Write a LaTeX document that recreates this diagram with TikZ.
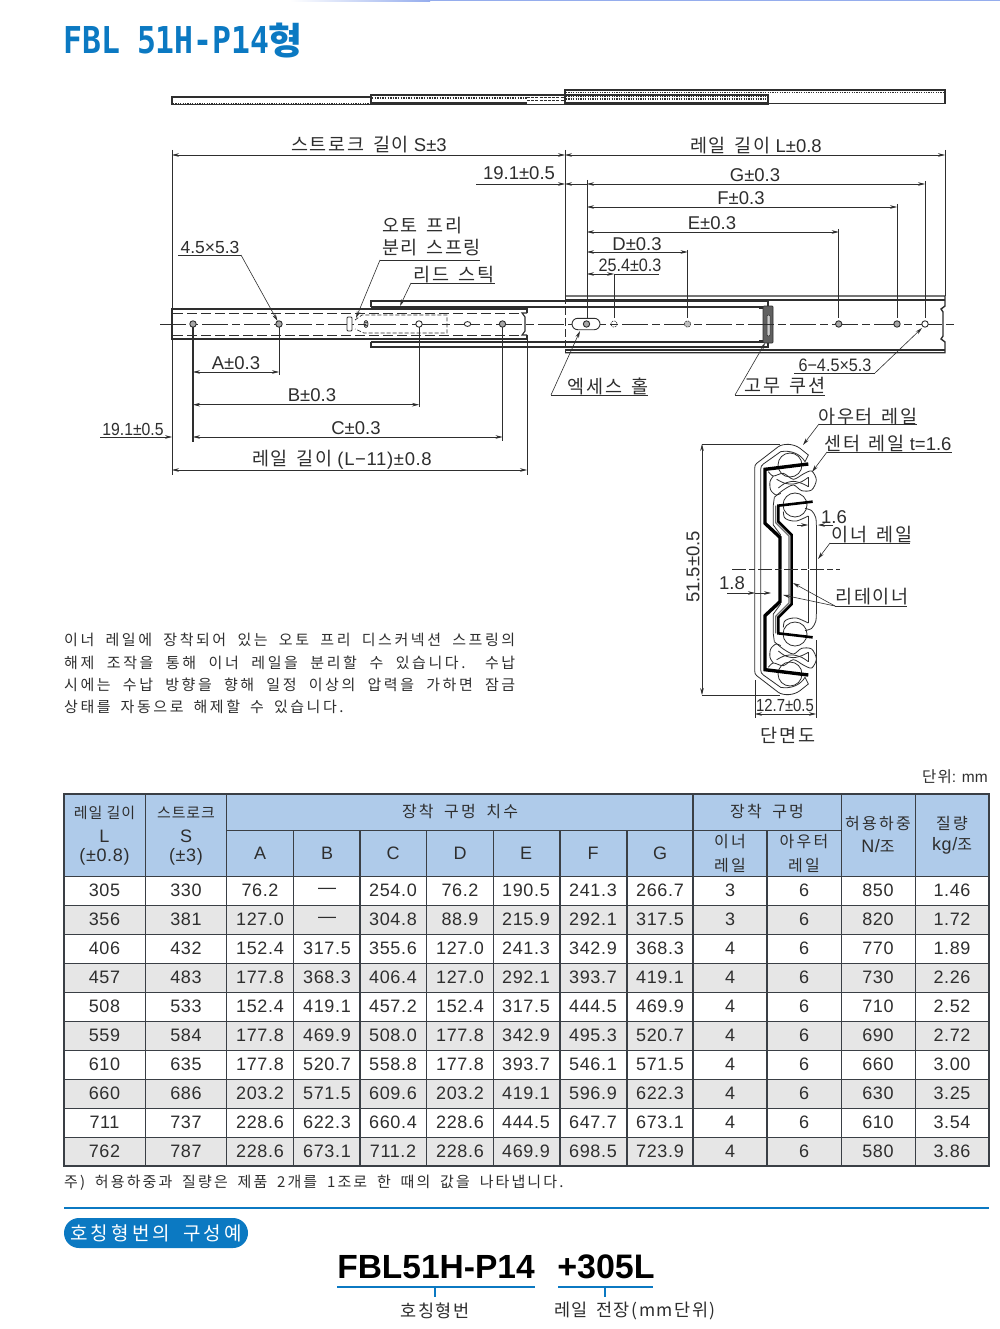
\documentclass[tikz,border=0pt]{standalone}
\usepackage{fontspec}
\usepackage{graphicx}
\setmainfont{Liberation Sans}
\newfontfamily\krfont[LetterSpace=9,WordSpace=1.5]{Noto Sans CJK KR}
\newfontfamily\krp[LetterSpace=17,WordSpace=1.7]{Noto Sans CJK KR}
\newfontfamily\krh[LetterSpace=14,WordSpace=1.8]{Noto Sans CJK KR}
\newfontfamily\krn[LetterSpace=6,WordSpace=1]{Noto Sans CJK KR}
\newfontfamily\numf[LetterSpace=3.5]{Liberation Sans}
\newfontfamily\titlefont{DejaVu Sans Mono}
\usetikzlibrary{arrows.meta,shadings}
\newcommand{\K}[1]{{\krfont #1}}
\newcommand{\fs}[1]{\fontsize{#1}{#1}\selectfont}
\newcommand{\KH}[1]{{\krh\fs{16}#1}}
\newcommand{\KN}[1]{{\krn\fs{15}#1}}
\definecolor{ink}{HTML}{2E2E2E}
\definecolor{blueb}{HTML}{0B79C2}
\definecolor{headb}{HTML}{AFCBEA}
\definecolor{rowg}{HTML}{E6E6E6}
\definecolor{tline}{HTML}{3A3F45}
\tikzset{
  tx/.style={inner sep=0pt,outer sep=0pt,text=ink,font=\fs{18.5}},
  txs/.style={inner sep=0pt,outer sep=0pt,text=ink,font=\fs{16}},
  cellt/.style={inner sep=0pt,outer sep=0pt,text=ink,font=\numf\fs{18}},
  headt/.style={inner sep=0pt,outer sep=0pt,text=ink,font=\numf\fs{18},align=center},
  para/.style={anchor=west,inner sep=0pt,text=ink,font=\krp\fs{15}},
  dl/.style={draw=ink,line width=.6pt},
  ext/.style={draw=ink,line width=.7pt},
  dim/.style={dl,{Stealth[length=7pt,width=3.6pt]}-{Stealth[length=7pt,width=3.6pt]}},
  dimr/.style={dl,-{Stealth[length=7pt,width=3.6pt]}},
  lead/.style={draw=ink,line width=.6pt,-{Stealth[length=7pt,width=3.6pt]}},
  rail/.style={draw=ink,line width=1.1pt},
  railb/.style={draw=ink,line width=1.4pt},
  hid/.style={draw=ink,line width=.7pt,dash pattern=on 10pt off 4pt},
  center/.style={draw=ink,line width=.6pt,dash pattern=on 26pt off 4pt on 8pt off 4pt},
  hole/.style={draw=ink,line width=.9pt,fill=gray!70},
  wholeh/.style={draw=ink,line width=.9pt,fill=white},
  sect/.style={draw=ink,line width=.8pt},
  grid/.style={draw=tline,line width=1.1pt},
}
\newcommand{\sectionhalf}{%
  \begin{scope}[shift={(740,440)},scale=0.3333]
    % outer rail
    \draw[sect] (44,388.5) -- (44,85) .. controls (44,78) and (46,73) .. (50,70) -- (115,20)
       .. controls (130,10) and (160,10) .. (180,25) -- (205,45) -- (195,65)
       .. controls (180,40) and (150,30) .. (122,35) -- (70,72)
       .. controls (65,76) and (62,80) .. (62,88) -- (62,388.5);
    % balls
    \draw[sect] (150,75) circle (36);
    \draw[sect] (165,195) circle (36);
    % centre rail wave
    \draw[sect] plot[smooth] coordinates {(85,95) (100,108) (130,100) (160,118) (190,102) (215,93) (229,120) (215,150) (185,152) (160,135) (130,150) (103,172)};
    \draw[sect] (103,172) -- (100,195) -- (100,255) -- (122,285);
    \draw[sect] plot[smooth] coordinates {(100,108) (90,125) (92,150) (108,165) (122,160)};
    \draw[sect] plot[smooth] coordinates {(110,118) (135,130) (160,132) (185,125) (205,112)};
    \draw[sect] plot[smooth] coordinates {(115,144) (135,130) (160,124) (185,130) (205,140)};
    \draw[sect] (205,112) -- (205,140);
    % inner rail
    \draw[sect] plot[smooth] coordinates {(130,215) (133,232) (145,240) (170,243) (205,228)};
    \draw[sect] (205,228) -- (205,388.5);
    \draw[sect] plot[smooth] coordinates {(195,205) (215,212) (227,232) (229,255)};
    \draw[sect] (229,255) -- (229,388.5);
    % retainers
    \draw[draw=ink!70,line width=1.2pt] (107,197) -- (107,248) -- (147,288) -- (147,388.5);
    \draw[draw=black,line width=3.4pt,line join=miter] (205,72) -- (75,88) -- (75,250) -- (120,292) -- (120,388.5);
    \draw[draw=black,line width=2.6pt,line join=miter] (218,185) -- (115,197) -- (115,245) -- (155,285) -- (155,388.5);
  \end{scope}}
\begin{document}
\begin{tikzpicture}[x=1pt,y=-1pt]
\useasboundingbox (0,0) rectangle (1000,1329);
\fill[white] (0,0) rectangle (1000,1329);
% top rule
\shade[left color=white,right color=headb!85!blue] (290,0) rectangle (430,1.3);
\fill[headb!85!blue] (430,0) rectangle (1000,1.3);
% title
\node[anchor=west,inner sep=0pt,text=blueb] (title) at (63,41) {\scalebox{.85}[1]{\titlefont\bfseries\fs{37}FBL}\hspace{17pt}\scalebox{.85}[1]{\titlefont\bfseries\fs{37}51H-P14}\raisebox{-1.5pt}{\krfont\bfseries\fs{37}\hspace{-1pt}형}};

% ---------- top view ----------
\draw[rail] (172,97) rectangle (371,104.5);
\draw[ink,line width=1pt,dash pattern=on 1.2pt off 1.2pt] (173,103.3) -- (371,103.3);
\draw[rail] (371,95) rectangle (768,104.5);
\draw[ink,line width=2.2pt,dash pattern=on 1.4pt off 1.2pt] (372,97.8) -- (527,97.8);
\draw[ink,line width=.5pt,dash pattern=on 3pt off 1.2pt] (527,97) -- (565,97);
\draw[ink,line width=.5pt,dash pattern=on 3pt off 1.2pt] (527,100) -- (565,100);
\draw[ink,line width=1.2pt] (372,103) -- (527,103);
\draw[rail] (565,90) rectangle (945,103.3);
\draw[ink,line width=1.3pt,dash pattern=on 1.2pt off 1.2pt] (566,92.5) -- (945,92.5);
\draw[ink,line width=1.7pt,dash pattern=on 1.2pt off 1.2pt] (566,96) -- (768,96);
\draw[ink,line width=1.7pt,dash pattern=on 1.2pt off 1.2pt] (566,99.3) -- (768,99.3);
\draw[ink,line width=1.6pt] (565,103) -- (768,103);
\draw[ink,line width=2pt] (768,94) -- (768,104.5);

% ---------- extension lines top ----------
\draw[ext] (172,150) -- (172,309);
\draw[ext] (565,150) -- (565,296);
\draw[ext] (945,150) -- (945,296);
\draw[ext] (587,180) -- (587,320);
\draw[ext] (925,181) -- (925,318);
\draw[ext] (897,204) -- (897,318);
\draw[ext] (838.7,229) -- (838.7,318);
\draw[ext] (687.5,250) -- (687.5,318);
\draw[ext] (614,274) -- (614,318);

% ---------- side view: outer rail ----------
\draw[railb] (565,296) -- (945,296) -- (945,306) -- (941,309) -- (943,312) -- (943,336) -- (941,339) -- (945,342) -- (945,352.7) -- (565,352.7);
\draw[rail] (565,300) -- (945,300);
\draw[rail] (565,350) -- (945,350);
\draw[ink,line width=.7pt,dash pattern=on 8pt off 3pt] (565,296) -- (565,352.7);
% centre rail
\draw[railb] (371,307) -- (371,301) -- (768,301) -- (768,307);
\draw[rail] (371,307) -- (763,307);
\draw[rail] (371,342) -- (763,342);
\draw[railb] (371,342) -- (371,347) -- (768,347) -- (768,342);
\draw[ink,line width=1pt] (383,308.5) -- (393,308.5);
\draw[ink,line width=1pt] (383,341) -- (393,341);
\draw[ink,line width=1pt] (393,306) -- (400,306);
% rubber cushion
\draw[ink,line width=.7pt] (759,308.5) -- (764,308.5);
\draw[ink,line width=.7pt] (759,340) -- (764,340);
\draw[draw=ink,fill=gray!75!black,line width=.7pt,rounded corners=1pt] (763,306) rectangle (773,343);
\draw[draw=ink,fill=gray!40,line width=.5pt,rounded corners=1pt] (767,315) rectangle (770,336);
% inner rail
\fill[white] (172,309) rectangle (527,339);
\draw[railb] (527,313) -- (527,309) -- (172,309) -- (172,339) -- (527,339) -- (527,335);
\draw[rail] (527,313) -- (522,313) -- (525,317) -- (525,331) -- (522,335) -- (527,335);
\draw[hid] (173,313) -- (522,313);
\draw[hid] (173,335) -- (522,335);
% hidden box
\draw[draw=ink,line width=.7pt,dash pattern=on 4pt off 2pt] (355,320) -- (362,315) -- (447,315) -- (447,333) -- (364,333) -- (355,329);
% centre line
\draw[center] (160,324) -- (956,324);
% holes
\draw[hole] (193,324) circle (3.2);
\draw[hole] (279,324) circle (3.2);
\draw[wholeh] (419,324) circle (3.2);
\draw[wholeh] (467.5,324) ellipse (3.2 and 2.4);
\draw[hole] (502.5,324) circle (3.2);
\draw[draw=ink,line width=.8pt] (366,324) ellipse (2 and 3.5);
\draw[draw=ink,line width=.5pt] (366,324) ellipse (1 and 2);
\draw[draw=ink,fill=white,line width=.9pt,rounded corners=1pt] (347,317) rectangle (352,331);
\draw[draw=ink,fill=white,line width=.9pt,rounded corners=5.7pt] (572,318.3) rectangle (600,329.7);
\draw[hole] (586.5,324) circle (3.2);
\draw[draw=ink,line width=.6pt,dash pattern=on 1.5pt off 1pt] (614,324) circle (3.2);
\draw[draw=ink,line width=.6pt,dash pattern=on 1.5pt off 1pt,fill=gray!50] (687.5,324) circle (3.2);
\draw[hole] (838.7,324) circle (3.2);
\draw[hole] (897,324) circle (3.2);
\draw[wholeh] (925,324) circle (3.2);

% ---------- lower extension ----------
\draw[ext] (172,339) -- (172,475);
\draw[ext] (527,339) -- (527,475);
\draw[draw=ink,line width=1.2pt] (193,327) -- (193,442);
\draw[ext] (279,327) -- (279,375);
\draw[ext] (419,327) -- (419,407);
\draw[ext] (502.5,327) -- (502.5,441);

% ---------- dimensions ----------
\coordinate (sL) at (172,155); \coordinate (sR) at (565,155); \coordinate (lR) at (945,155);
\draw[dim] (sL) -- (sR); \draw[dim] (sR) -- (lR);
\coordinate (h19a) at (476,184); \coordinate (h19b) at (565,184); \coordinate (h19c) at (587,184);
\draw[dimr] (h19a) -- (h19b);
\draw[dl,{Stealth[length=7pt,width=3.6pt]}-] (h19b) -- (h19c);
\coordinate (hG) at (587,184);
\draw[dim] (hG) -- (925,184);
\draw[dim] (587,207) -- (897,207);
\draw[dim] (587,232) -- (838.7,232);
\draw[dim] (587,252) -- (687.5,252);
\draw[dim] (587,274) -- (614,274);
\draw[dl] (614,274) -- (659,274);
\draw[dim] (193,372) -- (279,372);
\draw[dim] (193,404.7) -- (419,404.7);
\draw[dim] (193,437) -- (502.5,437);
\draw[dim] (172,470) -- (527,470);
\draw[dimr] (100,437) -- (172,437);

\node[tx] (t1) at (369,145) {\K{스트로크 길이} S±3};
\node[tx] (t2) at (756,146) {\K{레일 길이} L±0.8};
\node[tx] (t3) at (519,173) {19.1±0.5};
\node[tx] (tG) at (755,175) {G±0.3};
\node[tx] (tF) at (741,198) {F±0.3};
\node[tx] (tE) at (712,223) {E±0.3};
\node[tx] (tD) at (637,244) {D±0.3};
\node[txs] (t25) at (630,265) {\scalebox{.9}[1]{\fs{18}25.4±0.3}};
\node[txs] (t45) at (210,247) {\fs{17.5}4.5×5.3};
\node[tx,anchor=west] (toto) at (382,226) {\K{오토 프리}};
\node[tx,anchor=west] (tbun) at (382,248) {\K{분리 스프링}};
\node[tx] (tlead) at (454,275) {\K{리드 스틱}};
\node[tx] (tA) at (236,363) {A±0.3};
\node[tx] (tB) at (312,395) {B±0.3};
\node[tx] (tC) at (356,428) {C±0.3};
\node[tx] (tL11) at (342,460) {\K{레일 길이} \numf(L−11)±0.8};
\node[txs] (t19b) at (133,429) {\scalebox{.9}[1]{\fs{17.5}19.1±0.5}};
\node[tx] (tacc) at (608,386) {\K{엑세스 홀}};
\node[tx] (trub) at (785,386) {\K{고무 쿠션}};
\node[txs] (t6) at (835,365) {\scalebox{.9}[1]{\fs{18}6−4.5×5.3}};

% leaders
\draw[dl] (178,255) -- (241,255); \coordinate (l45) at (241,255);
\draw[lead] (241,255) -- (277.5,321);
\draw[dl] (380,260) -- (480,260);
\draw[lead] (380,260) -- (356,318);
\draw[dl] (411,283) -- (495,283);
\draw[lead] (411,283) -- (400,306);
\draw[dl] (551,395) -- (648,395);
\draw[lead] (551,395) -- (580,331);
\draw[dl] (735,395) -- (825,395);
\draw[lead] (735,395) -- (765,343);
\draw[dl] (794,373) -- (875,373);
\draw[lead] (875,373) -- (922,328);

% ---------- section ----------
\sectionhalf
\begin{scope}[shift={(0,1139)},yscale=-1]
\sectionhalf
\end{scope}
\draw[draw=ink,line width=.6pt,dash pattern=on 14pt off 3pt on 6pt off 3pt] (732,569.5) -- (840,569.5);
\draw[ext] (702,444) -- (780,444);
\draw[ext] (702,695) -- (780,695);
\draw[dim] (702,444) -- (702,695);
\draw[ext] (755,680) -- (755,718);
\draw[ext] (816,640) -- (816,718);
\draw[dim] (755,714) -- (816,714);
\draw[dl] (819,424) -- (917,424); \draw[lead] (819,424) -- (803,445);
\draw[dl] (827,452) -- (952,452); \draw[lead] (827,452) -- (812,472);
\draw[dimr] (797,525) -- (808,525);
\draw[dimr] (833,525) -- (818,525);
\draw[dl] (830,543) -- (910,543); \draw[lead] (830,543) -- (818,559);
\draw[dimr] (727,593) -- (755,593);
\draw[dimr] (755,593) -- (771,593);
\draw[dl] (835,606) -- (907,606);
\draw[lead] (835,606) -- (793,583);
\draw[lead] (835,606) -- (783,595);
\node[tx] (tau) at (868,417) {\K{아우터 레일}};
\node[tx] (tce) at (888,444) {\K{센터 레일} t=1.6};
\node[tx] (t16) at (834,517) {1.6};
\node[tx] (tin) at (872,535) {\K{이너 레일}};
\node[tx] (tre) at (872,597) {\K{리테이너}};
\node[tx] (t18) at (732,583) {1.8};
\node[tx,rotate=90] (t51) at (693,567) {51.5±0.5};
\node[txs] (t127) at (785,705) {\scalebox{.85}[1]{\fs{17.5}12.7±0.5}};
\node[tx] (tdan) at (788,735) {\K{단면도}};

% ---------- paragraph ----------
\node[para] (p1) at (64,640) {\makebox[451pt][s]{이너 레일에 장착되어 있는 오토 프리 디스커넥션 스프링의}};
\node[para] (p2) at (64,663) {\makebox[451pt][s]{해제 조작을 통해 이너 레일을 분리할 수 있습니다. 수납}};
\node[para] (p3) at (64,685) {\makebox[451pt][s]{시에는 수납 방향을 향해 일정 이상의 압력을 가하면 잠금}};
\node[para] (p4) at (64,707) {상태를 자동으로 해제할 수 있습니다.};

% ---------- table ----------
\node[anchor=east,inner sep=0pt,text=ink,font=\fs{15.5}] (unit) at (988,777) {\K{단위}: mm};
\fill[headb] (64,794) rectangle (989,876.7);
\foreach \i in {1,3,5,7,9} {
  \fill[rowg] (64,{876.7+\i*28.93}) rectangle (989,{876.7+(\i+1)*28.93});
}
% grid lines
\foreach \i in {1,...,9} { \draw[grid] (64,{876.7+\i*28.93}) -- (989,{876.7+\i*28.93}); }
\draw[grid] (64,876.7) -- (989,876.7);
\draw[grid] (227,830.7) -- (841.7,830.7);
\foreach \x in {145.7,226.7,693,841.7,915.7} { \draw[grid] (\x,794) -- (\x,1166); }
\foreach \x in {293.3,360,426.7,493.3,560,627,767} { \draw[grid] (\x,830.7) -- (\x,1166); }
\draw[draw=tline,line width=1.6pt] (64,794) rectangle (989,1166);
% header
\node[headt] (h1a) at (104.5,813) {\KN{레일 길이}};
\node[headt] (h1b) at (104.5,836) {L};
\node[headt] (h1c) at (104.5,857) {(±0.8)};
\node[headt] (h2a) at (186,813) {\KN{스트로크}};
\node[headt] (h2b) at (186,836) {S};
\node[headt] (h2c) at (186,857) {(±3)};
\node[headt] (h3) at (460,811) {\KH{장착 구멍 치수}};
\node[headt] (hA) at (260,853) {A};
\node[headt] (hB) at (327,853) {B};
\node[headt] (hC) at (393,853) {C};
\node[headt] (hD) at (460,853) {D};
\node[headt] (hE) at (526,853) {E};
\node[headt] (hF) at (593,853) {F};
\node[headt] (hG2) at (660,853) {G};
\node[headt] (h4) at (767,811) {\KH{장착 구멍}};
\node[headt] (h5a) at (730,842) {\KH{이너}};
\node[headt] (h5b) at (730,865) {\KH{레일}};
\node[headt] (h6a) at (804,842) {\KH{아우터}};
\node[headt] (h6b) at (804,865) {\KH{레일}};
\node[headt] (h7a) at (878,823) {\KH{허용하중}};
\node[headt] (h7b) at (878,846) {N/\KH{조}};
\node[headt] (h8a) at (952,823) {\KH{질량}};
\node[headt] (h8b) at (952,846) {kg/\KH{조}};
% rows
\foreach \r/\a/\b/\c/\d/\e/\f/\g/\h/\k/\m/\n/\o [count=\i from 0] in {
 305/330/76.2/—/254.0/76.2/190.5/241.3/266.7/3/6/850/1.46,
 356/381/127.0/—/304.8/88.9/215.9/292.1/317.5/3/6/820/1.72,
 406/432/152.4/317.5/355.6/127.0/241.3/342.9/368.3/4/6/770/1.89,
 457/483/177.8/368.3/406.4/127.0/292.1/393.7/419.1/4/6/730/2.26,
 508/533/152.4/419.1/457.2/152.4/317.5/444.5/469.9/4/6/710/2.52,
 559/584/177.8/469.9/508.0/177.8/342.9/495.3/520.7/4/6/690/2.72,
 610/635/177.8/520.7/558.8/177.8/393.7/546.1/571.5/4/6/660/3.00,
 660/686/203.2/571.5/609.6/203.2/419.1/596.9/622.3/4/6/630/3.25,
 711/737/228.6/622.3/660.4/228.6/444.5/647.7/673.1/4/6/610/3.54,
 762/787/228.6/673.1/711.2/228.6/469.9/698.5/723.9/4/6/580/3.86}
{
  \pgfmathsetmacro{\yy}{890.5+\i*28.93}
  \node[cellt] (c\i a) at (104.5,\yy) {\r};
  \node[cellt] (c\i b) at (186,\yy) {\a};
  \node[cellt] (c\i c) at (260,\yy) {\b};
  \node[cellt] (c\i d) at (327,\yy) {\c};
  \node[cellt] (c\i e) at (393,\yy) {\d};
  \node[cellt] (c\i f) at (460,\yy) {\e};
  \node[cellt] (c\i g) at (526,\yy) {\f};
  \node[cellt] (c\i h) at (593,\yy) {\g};
  \node[cellt] (c\i j) at (660,\yy) {\h};
  \node[cellt] (c\i k) at (730,\yy) {\k};
  \node[cellt] (c\i l) at (804,\yy) {\m};
  \node[cellt] (c\i m) at (878,\yy) {\n};
  \node[cellt] (c\i n) at (952,\yy) {\o};
}
\node[anchor=west,inner sep=0pt,text=ink,font=\krh\fs{15}] (note) at (64,1183) {주) 허용하중과 질량은 제품 2개를 1조로 한 때의 값을 나타냅니다.};

% ---------- bottom ----------
\draw[draw=blueb,line width=2pt] (64,1208) -- (989,1208);
\node[draw=none,fill=blueb,rounded corners=15pt,minimum width=184pt,minimum height=30pt,inner sep=0pt,text=white,font=\krp\fs{19}] (pill) at (156,1233) {호칭형번의 구성예};
\node[inner sep=0pt,text=black,font=\fs{33.5}\bfseries] (fbl) at (436,1267) {FBL51H-P14};
\node[inner sep=0pt,text=black,font=\fs{34}\bfseries] (plus) at (606,1267) {+305L};
\draw[draw=blueb,line width=1.4pt] (337,1287) -- (535,1287);
\draw[draw=blueb,line width=1.4pt] (558,1287) -- (653,1287);
\draw[draw=blueb,line width=1.2pt] (435,1287) -- (435,1297);
\draw[draw=blueb,line width=1.2pt] (605,1287) -- (605,1297);
\node[inner sep=0pt,text=ink,font=\fs{17.5}] (hn) at (435,1311) {\K{호칭형번}};
\node[inner sep=0pt,text=ink,font=\fs{17.5}] (hl) at (635,1311) {\K{레일 전장(mm단위)}};
\end{tikzpicture}
\end{document}
